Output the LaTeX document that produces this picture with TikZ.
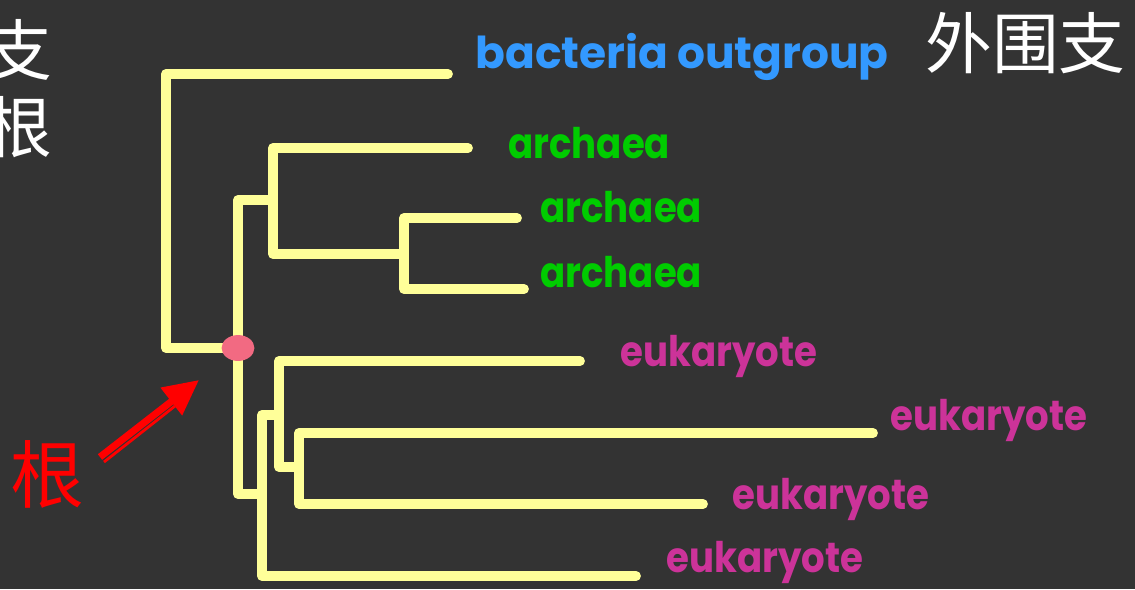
\documentclass[tikz,border=0pt]{standalone}
\usepackage{fontspec}
\newfontfamily\cjk{Noto Sans CJK SC}
\newfontfamily\labfont{Poppins}
\newfontfamily\narrowlab{Poppins}[FakeStretch=0.88]
\usetikzlibrary{arrows.meta,shapes.geometric,positioning}
\definecolor{bgcol}{HTML}{333333}
\definecolor{branchcol}{HTML}{FFFF99}
\definecolor{rootcol}{HTML}{F26A82}
\definecolor{bactcol}{HTML}{3399FF}
\definecolor{archcol}{HTML}{00CC00}
\definecolor{eukcol}{HTML}{CC3399}

\begin{document}
\begin{tikzpicture}[x=0.02cm,y=-0.02cm]
\tikzstyle{branch}=[draw=branchcol, line width=5.6pt, line cap=round, line join=round]
\tikzstyle{taxon}=[anchor=base west, inner sep=0pt, font=\narrowlab\bfseries\fontsize{24}{24}\selectfont]
\tikzstyle{hanzi}=[inner sep=0pt, text=white, font=\cjk\fontsize{38}{38}\selectfont]

\fill[bgcol] (0,0) rectangle (1135,589);
\useasboundingbox (0,0) rectangle (1135,589);

\coordinate (root) at (238,348);
\coordinate (og) at (166,348);
\coordinate (nA) at (273,200);
\coordinate (nB) at (404,254);
\coordinate (nE) at (262,494);
\coordinate (nF) at (279,415);
\coordinate (nG) at (299,467);
\coordinate (tB) at (448,74);
\coordinate (tA1) at (468,148);
\coordinate (tA2) at (517,218);
\coordinate (tA3) at (524,289);
\coordinate (tE1) at (580,361);
\coordinate (tE2) at (873,433);
\coordinate (tE3) at (703,504);
\coordinate (tE4) at (636,576);

\path[branch] (tB) -| (og) -- (root);
\path[branch] (nA) -| (root) |- (nE);
\path[branch] (tA1) -| (nA) |- (nB);
\path[branch] (tA2) -| (nB) |- (tA3);
\path[branch] (nF) -| (nE) |- (tE4);
\path[branch] (tE1) -| (nF) |- (nG);
\path[branch] (tE2) -| (nG) |- (tE3);

\node[ellipse, fill=rootcol, minimum width=33*0.567pt, minimum height=26*0.567pt, inner sep=0pt] (dot) at (root) {};

\node[taxon, text=bactcol, font=\labfont\bfseries\fontsize{25}{25}\selectfont] (bact) at (475,68) {bacteria outgroup};
\node[taxon, text=archcol] (arch1) at (508,158) {archaea};
\node[taxon, text=archcol] (arch2) at (540,222) {archaea};
\node[taxon, text=archcol] (arch3) at (540,287) {archaea};
\node[taxon, text=eukcol] (euk1) at (620,366) {eukaryote};
\node[taxon, text=eukcol] (euk2) at (890,430) {eukaryote};
\node[taxon, text=eukcol] (euk3) at (732,509) {eukaryote};
\node[taxon, text=eukcol] (euk4) at (666,572) {eukaryote};

\node[hanzi, anchor=base west] (outer) at (925,68) {外围支};
\node[hanzi, anchor=base east] (zhi) at (53,75) {支};
\node[hanzi, anchor=base east] (gen) at (53,152) {根};

\node[hanzi, anchor=base west, text=red, font=\cjk\fontsize{42}{42}\selectfont] (rootlab) at (10,502) {根};
\coordinate (arrtail) at (100,457);
\coordinate (arrtip) at (199,380);
\coordinate (railtail) at (104,462);
\coordinate (railend) at (175,406);
\draw[red, line width=4pt, -{Triangle[length=20pt, width=19pt]}] (arrtail) -- (arrtip);
\draw[red, line width=1.6pt] (railtail) -- (railend);
\end{tikzpicture}
\end{document}
